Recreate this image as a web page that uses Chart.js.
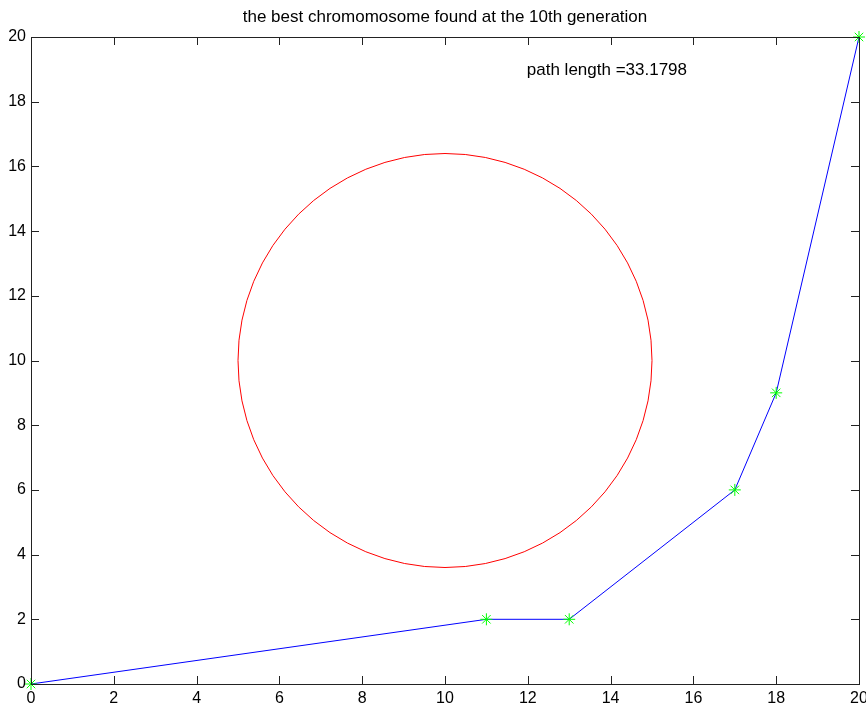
<!DOCTYPE html>
<html>
<head>
<meta charset="utf-8">
<script src="https://cdn.jsdelivr.net/npm/chart.js@4/dist/chart.umd.min.js"></script>
<style>
  html, body { margin: 0; padding: 0; background: #fff; }
  #wrap { width: 866px; height: 710px; }
</style>
</head>
<body>
<div id="wrap"><canvas id="chart" width="866" height="710"></canvas></div>
<script>
// best path found by the GA (city coordinates)
var pathX = [0, 11, 13, 17, 18, 20];
var pathY = [0, 2, 2, 6, 9, 20];

// obstacle circle
var circleCenter = [10, 10];
var circleRadius = 5;

var tickValues = [0, 2, 4, 6, 8, 10, 12, 14, 16, 18, 20];

var titleText = 'the best chromomosome found at the 10th generation';
var noteText = 'path length =33.1798';
var notePos = [12, 19];

var FONT = '"Liberation Sans", Arial, sans-serif';

var points = pathX.map(function (x, i) { return { x: x, y: pathY[i] }; });

// box around the axes + inward ticks on all four sides, like matlab
var boxPlugin = {
  id: 'box',
  afterDraw: function (chart) {
    var ctx = chart.ctx, a = chart.chartArea;
    var xs = chart.scales.x, ys = chart.scales.y;
    var tl = 8;
    ctx.save();
    ctx.strokeStyle = '#222';
    ctx.lineWidth = 1;
    ctx.beginPath();
    tickValues.forEach(function (v) {
      var px = Math.round(xs.getPixelForValue(v)) + 0.5;
      ctx.moveTo(px, a.bottom); ctx.lineTo(px, a.bottom - tl);
      ctx.moveTo(px, a.top); ctx.lineTo(px, a.top + tl);
      var py = Math.round(ys.getPixelForValue(v)) + 0.5;
      ctx.moveTo(a.left, py); ctx.lineTo(a.left + tl, py);
      ctx.moveTo(a.right, py); ctx.lineTo(a.right - tl, py);
    });
    ctx.stroke();
    ctx.strokeRect(Math.round(a.left) + 0.5, Math.round(a.top) + 0.5,
      Math.round(a.right - a.left), Math.round(a.bottom - a.top));

    ctx.fillStyle = '#000';
    ctx.font = '17px ' + FONT;
    ctx.textAlign = 'left';
    ctx.textBaseline = 'middle';
    ctx.fillText(noteText, xs.getPixelForValue(notePos[0]) - 1, ys.getPixelForValue(notePos[1]) + 1);
    ctx.restore();
  }
};

var ctx = document.getElementById('chart');
var chart = new Chart(ctx, {
  type: 'scatter',
  data: {
    datasets: [{
      label: 'path',
      data: points,
      showLine: true,
      clip: false,
      borderColor: '#0000ff',
      borderWidth: 1,
      pointStyle: 'star',
      pointRadius: 6,
      pointBorderColor: '#00ff00',
      pointBackgroundColor: '#00ff00',
      pointBorderWidth: 1,
      order: 1
    }, {
      label: 'circle',
      data: [{ x: circleCenter[0], y: circleCenter[1] }],
      showLine: false,
      pointStyle: 'circle',
      pointRadius: function (c) {
        var s = c.chart.scales.x;
        return Math.abs(s.getPixelForValue(circleCenter[0] + circleRadius) - s.getPixelForValue(circleCenter[0]));
      },
      pointBorderColor: '#ff0000',
      pointBackgroundColor: 'rgba(0,0,0,0)',
      pointBorderWidth: 1,
      order: 2
    }]
  },
  options: {
    responsive: false,
    animation: false,
    events: [],
    layout: { padding: { left: 0, right: 7, top: 0, bottom: 0 } },
    plugins: {
      legend: { display: false },
      tooltip: { enabled: false },
      title: {
        display: true,
        text: titleText,
        fullSize: false,
        color: '#000',
        font: { family: FONT, size: 17, weight: 'normal' },
        padding: { top: 7, bottom: 9.6 }
      }
    },
    scales: {
      x: {
        type: 'linear',
        min: 0, max: 20,
        afterBuildTicks: function (s) { s.ticks = tickValues.map(function (v) { return { value: v }; }); },
        afterFit: function (s) { s.height = 26; s.paddingLeft = 0; s.paddingRight = 0; },
        grid: { display: false, drawTicks: false },
        border: { display: false },
        ticks: {
          color: '#000',
          font: { family: FONT, size: 16 },
          padding: 5,
          maxRotation: 0,
          autoSkip: false
        }
      },
      y: {
        type: 'linear',
        min: 0, max: 20,
        afterBuildTicks: function (s) { s.ticks = tickValues.map(function (v) { return { value: v }; }); },
        afterFit: function (s) { s.width = 31; s.paddingTop = 0; s.paddingBottom = 0; },
        grid: { display: false, drawTicks: false },
        border: { display: false },
        ticks: {
          color: '#000',
          font: { family: FONT, size: 16 },
          padding: 5,
          autoSkip: false
        }
      }
    }
  },
  plugins: [boxPlugin]
});
</script>
</body>
</html>
